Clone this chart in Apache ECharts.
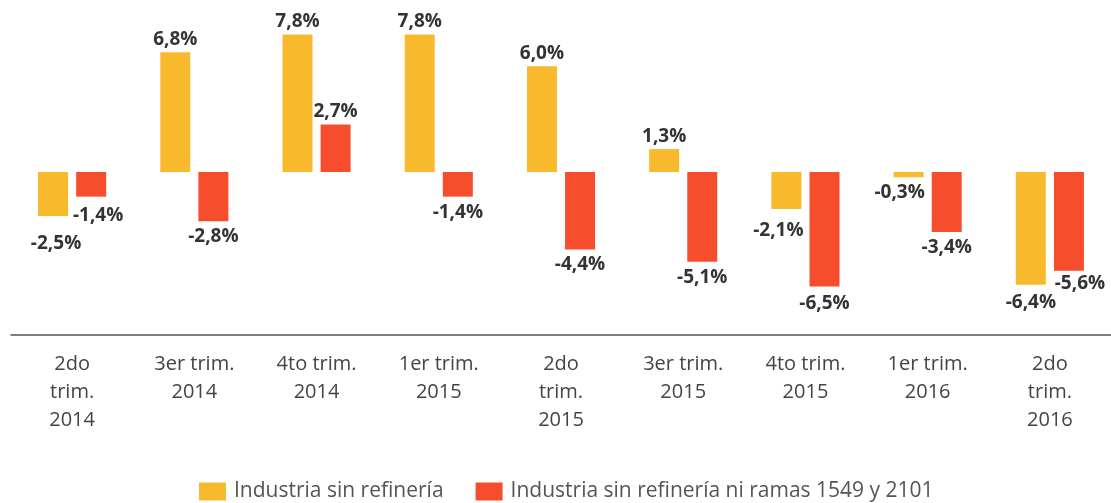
<!DOCTYPE html>
<html>
<head>
    <meta charset="utf-8" />
    <title>Industria sin refinería</title>
    <script type="text/javascript" src="https://cdn.jsdelivr.net/npm/echarts@6/dist/echarts.min.js"></script>
    <style>
        html, body { margin: 0; padding: 0; background: #fff; }
    </style>
</head>
<body>
<div id="main" style="width: 1111px;height:503px;"></div>
<script type="text/javascript">
    // categorías (trimestres) y valores en %
    var trimestres = ['2do\ntrim.\n2014', '3er trim.\n2014', '4to trim.\n2014', '1er trim.\n2015',
        '2do\ntrim.\n2015', '3er trim.\n2015', '4to trim.\n2015', '1er trim.\n2016', '2do\ntrim.\n2016'];
    var sinRefineria = [-2.5, 6.8, 7.8, 7.8, 6.0, 1.3, -2.1, -0.3, -6.4];
    var sinRefineriaNiRamas = [-1.4, -2.8, 2.7, -1.4, -4.4, -5.1, -6.5, -3.4, -5.6];

    function fmt(v) {
        return v.toFixed(1).replace('.', ',') + '%';
    }

    // etiqueta arriba si es positivo, abajo si es negativo
    function buildData(values, extra) {
        return values.map(function (v, i) {
            var label = {
                position: v >= 0 ? 'top' : 'bottom',
                distance: v >= 0 ? 3 : 6
            };
            if (extra && extra[i]) {
                for (var k in extra[i]) label[k] = extra[i][k];
            }
            return { value: v, label: label };
        });
    }

    // ajustes de etiquetas para que no se encimen
    var ajusteAmarillo = {
        0: { distance: 18, offset: [3, 0] },
        6: { distance: 12, offset: [-8, 0] },
        7: { offset: [-9, 0] },
        8: { distance: 8 }
    };
    var ajusteRojo = {
        0: { distance: 9, offset: [7, 0] },
        6: { distance: 8 },
        8: { distance: 3, offset: [11, 0] }
    };

    var myChart = echarts.init(document.getElementById('main'));
    var labelStyle = {
        show: true,
        color: '#333',
        fontFamily: 'Open Sans',
        fontWeight: 'bold',
        fontSize: 19,
        formatter: function (p) { return fmt(p.value); }
    };
    var option = {
        animation: false,
        color: ['#F8B92D', '#F64E2C'],
        grid: {
            left: 11,
            right: 0,
            top: 31,
            bottom: 168
        },
        legend: {
            top: 476,
            left: 194,
            itemWidth: 27,
            itemHeight: 18,
            itemGap: 32,
            icon: 'rect',
            textStyle: {
                color: '#555',
                fontFamily: 'Open Sans',
                fontSize: 21,
                padding: [0, 0, 0, 3]
            },
            data: ['Industria sin refinería', 'Industria sin refinería ni ramas 1549 y 2101']
        },
        xAxis: {
            type: 'category',
            data: trimestres,
            position: 'bottom',
            axisLine: { onZero: false, lineStyle: { color: '#555', width: 1.5 } },
            axisTick: { alignWithLabel: true, length: 6, lineStyle: { color: '#555', width: 1.5 } },
            axisLabel: {
                color: '#444',
                fontFamily: 'Open Sans',
                fontSize: 20,
                lineHeight: 28,
                margin: 15
            }
        },
        yAxis: {
            type: 'value',
            min: -9.25,
            max: 8,
            show: false,
            splitLine: { show: false }
        },
        series: [
            {
                name: 'Industria sin refinería',
                type: 'bar',
                barWidth: 30,
                barGap: '27%',
                label: labelStyle,
                data: buildData(sinRefineria, ajusteAmarillo)
            },
            {
                name: 'Industria sin refinería ni ramas 1549 y 2101',
                type: 'bar',
                barWidth: 30,
                label: labelStyle,
                data: buildData(sinRefineriaNiRamas, ajusteRojo)
            }
        ]
    };
    myChart.setOption(option);
</script>
</body>
</html>
